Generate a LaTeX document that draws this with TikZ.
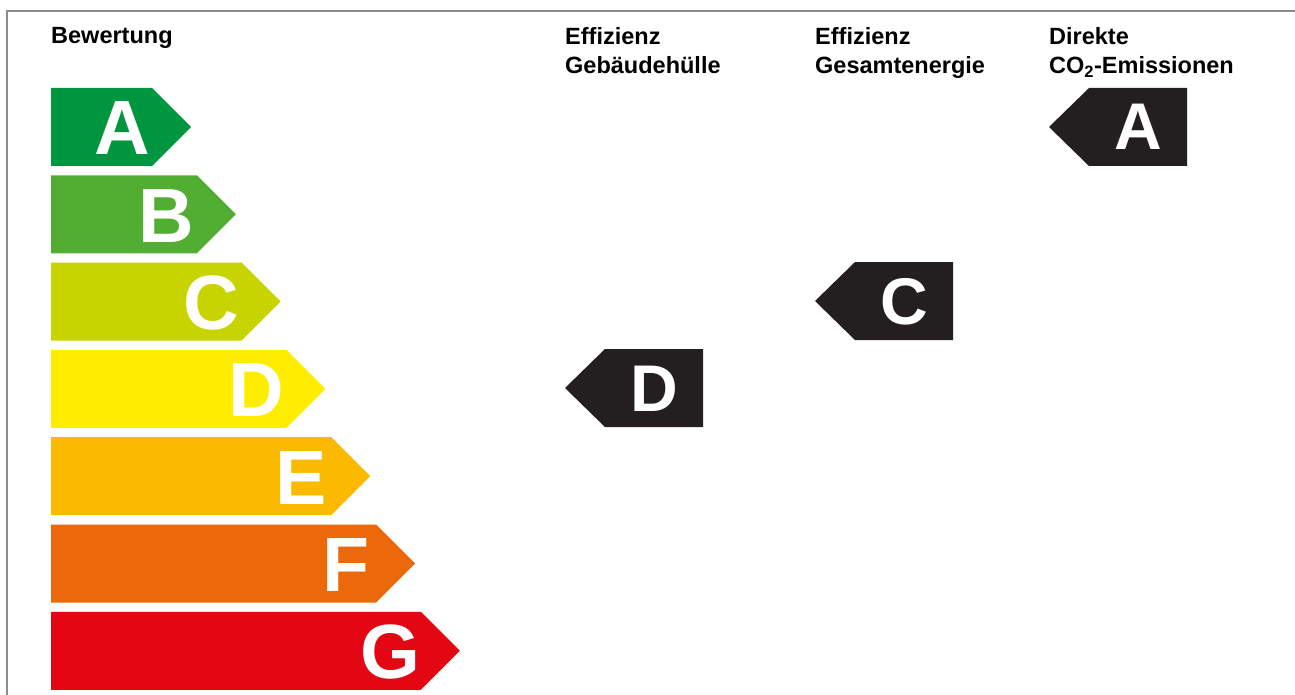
\documentclass[tikz,border=0pt]{standalone}
\usepackage{fontspec}
\setmainfont{Liberation Sans}
\definecolor{effA}{RGB}{0,150,64}
\definecolor{effB}{RGB}{82,174,50}
\definecolor{effC}{RGB}{200,212,0}
\definecolor{effD}{RGB}{255,237,0}
\definecolor{effE}{RGB}{251,186,0}
\definecolor{effF}{RGB}{235,105,11}
\definecolor{effG}{RGB}{227,6,19}
\definecolor{effK}{RGB}{35,31,32}
\begin{document}
\begin{tikzpicture}[x=1pt,y=-1pt,line cap=butt,line join=miter]
	\tikzset{declare function={barh=78;tipl=39;},
		head/.style={anchor=north west,inner sep=0pt,align=left,font=\fontsize{23.5}{29}\selectfont\bfseries},
		bigletter/.style={anchor=base,inner sep=0pt,text=white,font=\fontsize{77}{77}\selectfont\bfseries},
		smallletter/.style={anchor=base,inner sep=0pt,text=white,font=\fontsize{66}{66}\selectfont\bfseries}
	}
	\useasboundingbox (0,0) rectangle (1295,695);
	\draw[black!45,line width=1.5pt] (7,695)--(7,11)--(1295,11);
	% Skala
	\node[head] (bewertung) at (51,27.5) {Bewertung};
	\foreach \l/\c [count=\i from 0] in {A/effA,B/effB,C/effC,D/effD,E/effE,F/effF,G/effG}{
		\pgfmathsetmacro\yt{88+87.3*\i}
		\pgfmathsetmacro\xb{152+44.8*\i}
		\fill[\c] (51,\yt)--(\xb,\yt)--++(tipl,tipl)--++(-tipl,tipl)--(51,\yt+barh)--cycle;
		\node[bigletter] (bar-\l) at (\xb-30,\yt+67) {\l};
	}
	% Einstufung
	\node[head] (huelle-head) at (565,27.5) {Effizienz\\Gebäudehülle};
	\node[head] (energie-head) at (815,27.5) {Effizienz\\Gesamtenergie};
	\node[head] (co2-head) at (1049,27.5) {Direkte\\CO\textsubscript{2}-Emissionen};
	\foreach \x/\y/\l/\n in {565/349/D/huelle,815/262/C/energie,1049/88/A/co2}{
		\fill[effK] (\x,\y+tipl)--++(40,-tipl)--++(98,0)--++(0,barh)--++(-98,0)--cycle;
		\node[smallletter] (\n) at (\x+89,\y+62) {\l};
	}
\end{tikzpicture}
\end{document}
